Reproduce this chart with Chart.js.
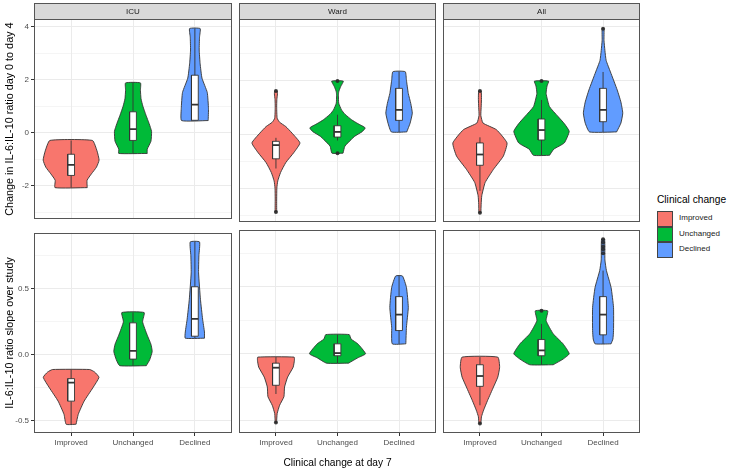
<!DOCTYPE html>
<html>
<head>
<meta charset="utf-8">
<script src="https://cdn.jsdelivr.net/npm/chart.js@4.4.1/dist/chart.umd.min.js"></script>
<style>
html,body{margin:0;padding:0;background:#fff;}
#wrap{position:relative;width:729px;height:472px;overflow:hidden;background:#fff;font-family:"Liberation Sans",Arial,Helvetica,sans-serif;}
#wrap canvas{position:absolute;}
.lgt{position:absolute;left:657px;top:193px;font-size:10.2px;color:#000;white-space:nowrap;line-height:14px;}
.lgk{position:absolute;left:657px;width:14px;height:13.5px;border:0.8px solid #444;}
.lgl{position:absolute;left:679px;font-size:8px;color:#1a1a1a;line-height:10px;white-space:nowrap;}
</style>
</head>
<body>
<div id="wrap"></div>
<script>
// ---------- data ----------
const categories = ['Improved', 'Unchanged', 'Declined'];
const facets = ['ICU', 'Ward', 'All'];
const fillColors = ['#F8766D', '#00BA38', '#619CFF'];
const yTitles = ['Change in IL-6:IL-10 ratio day 0 to day 4', 'IL-6:IL-10 ratio slope over study'];
const xTitle = 'Clinical change at day 7';
const legendTitle = 'Clinical change';

const changeMajorTicks = [-2, 0, 2, 4];
const changeMinorTicks = [-3, -1, 1, 3];
const changeTickLabels = ['-2', '0', '2', '4'];
const slopeMajorTicks = [-0.5, 0, 0.5];
const slopeMinorTicks = [-0.25, 0.25, 0.75];
const slopeTickLabels = ['-0.5', '0.0', '0.5'];
const changeRange = [-3.26, 4.29];
const slopeRange = [-0.591, 0.923];

// violin profiles: [value, half-width in category units], bottom -> top
const vChangeIcuImproved = [[-2.07,0.26],[-1.79,0.258],[-1.55,0.328],[-1.30,0.409],[-1.03,0.452],[-0.69,0.419],[-0.29,0.344]];
const vChangeIcuUnchanged = [[-0.78,0.23],[-0.62,0.23],[-0.32,0.29],[0.05,0.30],[0.35,0.26],[0.66,0.21],[1.0,0.16],[1.28,0.13],[1.6,0.12],[1.88,0.12]];
const vChangeIcuDeclined = [[0.46,0.215],[0.91,0.22],[1.52,0.2],[2.06,0.115],[2.6,0.085],[3.12,0.07],[3.6,0.075],[3.93,0.085]];
const vChangeWardImproved = [[-2.89,0.012],[-2.4,0.012],[-2.0,0.015],[-1.73,0.03],[-1.42,0.075],[-1.05,0.16],[-0.68,0.29],[-0.32,0.39],[0.05,0.26],[0.29,0.16],[0.45,0.06],[0.6,0.02],[1.0,0.012],[1.3,0.015],[1.5,0.025],[1.61,0.02]];
const vChangeWardUnchanged = [[-0.70,0.09],[-0.44,0.12],[-0.2,0.22],[-0.07,0.28],[0.1,0.40],[0.24,0.45],[0.4,0.33],[0.54,0.23],[0.75,0.12],[0.91,0.065],[1.16,0.02],[1.45,0.015],[1.58,0.02],[1.77,0.05],[1.98,0.094]];
const vChangeWardDeclined = [[0.09,0.125],[0.42,0.18],[0.79,0.215],[1.15,0.19],[1.52,0.15],[2.01,0.12],[2.33,0.10]];
const vChangeAllImproved = [[-2.92,0.015],[-2.6,0.02],[-2.28,0.03],[-1.79,0.085],[-1.30,0.22],[-0.81,0.38],[-0.32,0.44],[0.17,0.27],[0.42,0.05],[0.7,0.015],[1.0,0.02],[1.3,0.025],[1.61,0.02]];
const vChangeAllUnchanged = [[-0.78,0.13],[-0.55,0.2],[-0.32,0.37],[0.11,0.45],[0.4,0.37],[0.66,0.27],[1.03,0.13],[1.52,0.075],[1.8,0.09],[1.98,0.115]];
const vChangeAllDeclined = [[0.09,0.22],[0.42,0.29],[0.79,0.32],[1.2,0.29],[1.65,0.23],[2.32,0.12],[2.75,0.05],[3.12,0.03],[3.5,0.015],[3.93,0.015]];

const vSlopeIcuImproved = [[-0.525,0.08],[-0.45,0.115],[-0.35,0.21],[-0.25,0.35],[-0.17,0.45],[-0.13,0.38],[-0.111,0.30]];
const vSlopeIcuUnchanged = [[-0.082,0.215],[-0.037,0.27],[0.025,0.31],[0.08,0.29],[0.149,0.23],[0.25,0.155],[0.32,0.18]];
const vSlopeIcuDeclined = [[0.126,0.155],[0.173,0.155],[0.27,0.125],[0.42,0.09],[0.62,0.06],[0.75,0.065],[0.854,0.075]];
const vSlopeWardImproved = [[-0.513,0.01],[-0.446,0.02],[-0.384,0.06],[-0.32,0.13],[-0.248,0.14],[-0.174,0.19],[-0.10,0.28],[-0.05,0.30],[-0.025,0.295]];
const vSlopeWardUnchanged = [[-0.07,0.18],[-0.03,0.33],[0.0,0.455],[0.074,0.33],[0.11,0.22],[0.143,0.19]];
const vSlopeWardDeclined = [[0.074,0.11],[0.198,0.12],[0.346,0.15],[0.495,0.12],[0.58,0.055]];
const vSlopeAllImproved = [[-0.52,0.015],[-0.47,0.025],[-0.42,0.06],[-0.347,0.125],[-0.248,0.22],[-0.174,0.29],[-0.10,0.32],[-0.025,0.29]];
const vSlopeAllUnchanged = [[-0.082,0.19],[-0.04,0.35],[0.0,0.45],[0.074,0.35],[0.149,0.19],[0.247,0.075],[0.32,0.10]];
const vSlopeAllDeclined = [[0.074,0.13],[0.11,0.16],[0.173,0.17],[0.346,0.17],[0.495,0.13],[0.62,0.055],[0.7,0.03],[0.854,0.025]];

// boxplot stats: [lower whisker, Q1, median, Q3, upper whisker]
const boxChangeIcu = [[-2.07,-1.61,-1.21,-0.81,-0.29],[-0.78,-0.29,0.14,0.79,1.88],[0.46,0.47,1.06,2.17,3.93]];
const boxChangeWard = [[-1.27,-0.91,-0.40,-0.26,-0.13],[-0.23,-0.10,0.09,0.32,0.73],[0.09,0.52,0.91,1.71,2.33]];
const boxChangeAll = [[-2.10,-1.15,-0.75,-0.32,-0.11],[-0.78,-0.21,0.16,0.57,1.28],[0.09,0.47,0.91,1.71,2.32]];
const boxSlopeIcu = [[-0.525,-0.35,-0.21,-0.18,-0.111],[-0.082,-0.032,0.030,0.242,0.32],[0.126,0.141,0.272,0.515,0.854]];
const boxSlopeWard = [[-0.30,-0.235,-0.104,-0.07,-0.025],[-0.07,-0.015,0.005,0.074,0.143],[0.074,0.173,0.292,0.426,0.58]];
const boxSlopeAll = [[-0.384,-0.243,-0.166,-0.082,-0.025],[-0.082,-0.015,0.025,0.106,0.223],[0.074,0.141,0.292,0.426,0.62]];

// outliers
const outChangeIcu = [[], [], []];
const outChangeWard = [[1.61,-2.89], [1.98,-0.70], []];
const outChangeAll = [[1.61,-2.92], [1.98], [3.93]];
const outSlopeIcu = [[], [], []];
const outSlopeWard = [[-0.513], [], []];
const outSlopeAll = [[-0.52], [0.32], [0.854,0.83,0.80,0.78,0.75]];

// ---------- layout ----------
const panelLeft = [34, 238, 442];
const panelRight = [232, 437, 641];
const panelTop = [19, 229];
const panelBottom = [223, 433];
const FONT = '"Liberation Sans", Arial, Helvetica, sans-serif';
const BOX_HALF = 0.055;
const EDGE = '#333333';
const FRAME = '#555555';

const panels = [
  {r:0,c:0,v:[vChangeIcuImproved,vChangeIcuUnchanged,vChangeIcuDeclined],b:boxChangeIcu,o:outChangeIcu},
  {r:0,c:1,v:[vChangeWardImproved,vChangeWardUnchanged,vChangeWardDeclined],b:boxChangeWard,o:outChangeWard},
  {r:0,c:2,v:[vChangeAllImproved,vChangeAllUnchanged,vChangeAllDeclined],b:boxChangeAll,o:outChangeAll},
  {r:1,c:0,v:[vSlopeIcuImproved,vSlopeIcuUnchanged,vSlopeIcuDeclined],b:boxSlopeIcu,o:outSlopeIcu},
  {r:1,c:1,v:[vSlopeWardImproved,vSlopeWardUnchanged,vSlopeWardDeclined],b:boxSlopeWard,o:outSlopeWard},
  {r:1,c:2,v:[vSlopeAllImproved,vSlopeAllUnchanged,vSlopeAllDeclined],b:boxSlopeAll,o:outSlopeAll}
];

function violinPoints(cat, prof) {
  const right = prof.map(([y, w]) => ({x: cat + w, y}));
  const left = prof.slice().reverse().map(([y, w]) => ({x: cat - w, y}));
  return right.concat(left, [right[0]]);
}

const panelPlugin = {
  id: 'panelDeco',
  afterDraw(chart) {
    const o = chart.options.plugins.panelDeco;
    const a = chart.chartArea;
    const ctx = chart.ctx;
    ctx.save();
    ctx.strokeStyle = FRAME;
    ctx.lineWidth = 1;
    ctx.strokeRect(Math.round(a.left) + 0.5, Math.round(a.top) + 0.5, Math.round(a.right - a.left) - 1, Math.round(a.bottom - a.top) - 1);
    if (o.strip) {
      const top = 3, h = a.top - 3;
      ctx.fillStyle = '#D9D9D9';
      ctx.fillRect(Math.round(a.left) + 0.5, top + 0.5, Math.round(a.right - a.left) - 1, h);
      ctx.strokeRect(Math.round(a.left) + 0.5, top + 0.5, Math.round(a.right - a.left) - 1, h);
      ctx.fillStyle = '#1A1A1A';
      ctx.font = '8px ' + FONT;
      ctx.textAlign = 'center';
      ctx.textBaseline = 'middle';
      ctx.fillText(o.strip, (a.left + a.right) / 2, top + h / 2 + 0.5);
    }
    ctx.restore();
  }
};

const wrap = document.getElementById('wrap');

panels.forEach(p => {
  const {r, c} = p;
  const leftExtra = c === 0 ? 34 : 3;
  const rightExtra = 3;
  const topExtra = r === 0 ? 19 : 3;
  const bottomExtra = r === 1 ? (c === 1 ? 472 - panelBottom[1] : 24) : 3;
  const L = panelLeft[c] - leftExtra, T = panelTop[r] - topExtra;
  const W = panelRight[c] + rightExtra - L, H = panelBottom[r] + bottomExtra - T;
  const cv = document.createElement('canvas');
  cv.width = W; cv.height = H;
  cv.style.left = L + 'px'; cv.style.top = T + 'px';
  cv.style.width = W + 'px'; cv.style.height = H + 'px';
  wrap.appendChild(cv);

  const major = r === 0 ? changeMajorTicks : slopeMajorTicks;
  const minor = r === 0 ? changeMinorTicks : slopeMinorTicks;
  const labels = r === 0 ? changeTickLabels : slopeTickLabels;
  const range = r === 0 ? changeRange : slopeRange;
  const allTicks = major.concat(minor).sort((a, b) => a - b);
  const isMajor = v => major.some(m => Math.abs(m - v) < 1e-9);

  const datasets = [];
  categories.forEach((cat, i) => {
    const cx = i + 1;
    const st = p.b[i];
    datasets.push({data: violinPoints(cx, p.v[i]), borderColor: EDGE, borderWidth: 0.9, backgroundColor: fillColors[i], fill: 'shape', pointRadius: 0, tension: 0.15, order: 5});
    datasets.push({data: [{x: cx, y: st[0]}, {x: cx, y: st[4]}], borderColor: EDGE, borderWidth: 0.9, pointRadius: 0, fill: false, order: 4});
    datasets.push({data: [{x: cx - BOX_HALF, y: st[1]}, {x: cx + BOX_HALF, y: st[1]}, {x: cx + BOX_HALF, y: st[3]}, {x: cx - BOX_HALF, y: st[3]}, {x: cx - BOX_HALF, y: st[1]}], borderColor: EDGE, borderWidth: 0.9, backgroundColor: '#FFFFFF', fill: 'shape', pointRadius: 0, tension: 0, order: 3});
    datasets.push({data: [{x: cx - BOX_HALF, y: st[2]}, {x: cx + BOX_HALF, y: st[2]}], borderColor: EDGE, borderWidth: 1.8, pointRadius: 0, fill: false, order: 2});
    if (p.o[i].length) {
      datasets.push({data: p.o[i].map(y => ({x: cx, y})), showLine: false, pointRadius: 2, pointBackgroundColor: 'rgba(40,40,40,0.9)', pointBorderWidth: 0, order: 1});
    }
  });

  new Chart(cv, {
    type: 'line',
    data: {datasets},
    plugins: [panelPlugin],
    options: {
      responsive: false,
      animation: false,
      devicePixelRatio: 1,
      events: [],
      layout: {padding: {left: 0, right: rightExtra, top: topExtra, bottom: 0}},
      plugins: {
        legend: {display: false},
        tooltip: {enabled: false},
        panelDeco: {strip: r === 0 ? facets[c] : null}
      },
      scales: {
        x: {
          type: 'linear', min: 0.4, max: 3.6,
          afterBuildTicks: s => { s.ticks = [1, 2, 3].map(v => ({value: v})); },
          afterFit: s => { s.height = bottomExtra; },
          border: {display: false},
          grid: {color: '#EBEBEB', lineWidth: 1, drawTicks: r === 1, tickLength: 3, tickColor: EDGE, tickWidth: 1},
          ticks: {display: r === 1, autoSkip: false, maxRotation: 0, padding: 2, color: '#4D4D4D', font: {family: FONT, size: 8},
                  callback: v => categories[Math.round(v) - 1]},
          title: {display: r === 1 && c === 1, text: xTitle, color: '#000', font: {family: FONT, size: 10.2}, padding: {top: 0, bottom: 3}}
        },
        y: {
          type: 'linear', min: range[0], max: range[1],
          afterBuildTicks: s => { s.ticks = allTicks.map(v => ({value: v})); },
          afterFit: s => { s.width = leftExtra; },
          border: {display: false},
          grid: {
            color: '#EBEBEB',
            lineWidth: ctx => isMajor(ctx.tick.value) ? 1 : 0.5,
            drawTicks: c === 0, tickLength: 3, tickWidth: 1,
            tickColor: ctx => isMajor(ctx.tick.value) ? EDGE : 'rgba(0,0,0,0)'
          },
          ticks: {display: c === 0, autoSkip: false, padding: 2, color: '#4D4D4D', font: {family: FONT, size: 8},
                  callback: v => { const k = major.findIndex(m => Math.abs(m - v) < 1e-9); return k >= 0 ? labels[k] : ''; }},
          title: {display: c === 0, text: yTitles[r], color: '#000', font: {family: FONT, size: 10.8}, padding: {top: 3.6, bottom: 0}}
        }
      }
    }
  });
});

// legend (HTML)
const lt = document.createElement('div');
lt.className = 'lgt'; lt.textContent = legendTitle; wrap.appendChild(lt);
categories.forEach((cat, i) => {
  const k = document.createElement('div');
  k.className = 'lgk';
  k.style.top = (211 + i * 15.7) + 'px';
  k.style.background = fillColors[i];
  wrap.appendChild(k);
  const t = document.createElement('div');
  t.className = 'lgl';
  t.style.top = (213 + i * 15.7) + 'px';
  t.textContent = cat;
  wrap.appendChild(t);
});
</script>
</body>
</html>
